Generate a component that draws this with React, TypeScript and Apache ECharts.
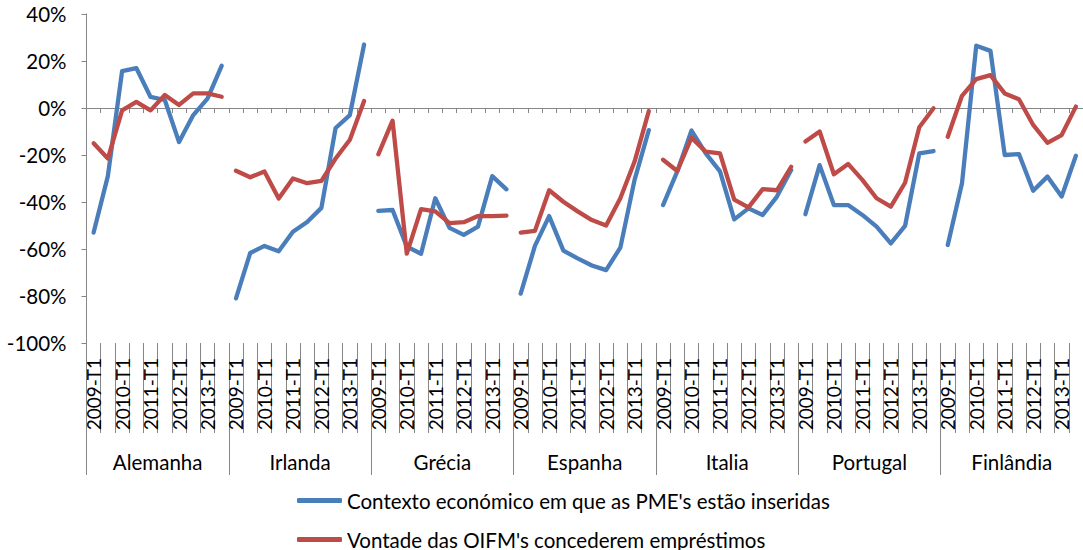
import React, { useEffect, useRef } from "react";
import * as echarts from "echarts";

const countries = ["Alemanha", "Irlanda", "Grécia", "Espanha", "Italia", "Portugal", "Finlândia"];
const periodLabels = ["2009-T1", "", "2010-T1", "", "2011-T1", "", "2012-T1", "", "2013-T1", ""];

const blueName = "Contexto económico em que as PME's estão inseridas";
const redName = "Vontade das OIFM's concederem empréstimos";

// Contexto económico (%), per country, 10 periods each
const contextoAlemanha = [-53, -29, 15.7, 17, 4.7, 3.4, -14.5, -3, 4, 18];
const contextoIrlanda = [-81, -61.7, -58.7, -61, -52.7, -48.5, -42.5, -8.5, -3, 27];
const contextoGrecia = [-43.8, -43.4, -59, -62, -38.4, -51, -54, -50.5, -29, -34.6];
const contextoEspanha = [-79, -58.7, -46, -60.7, -64, -67, -69, -59.4, -30.6, -9.4];
const contextoItalia = [-41.3, -27, -9.6, -19.3, -27, -47.4, -42.7, -45.5, -37.7, -26.4];
const contextoPortugal = [-45.2, -24.3, -41.3, -41.3, -45.5, -50.5, -57.6, -50.2, -19.3, -18.3];
const contextoFinlandia = [-58.3, -32, 26.5, 24.3, -20, -19.6, -35.2, -29.2, -37.7, -20.3];

// Vontade das OIFM (%)
const vontadeAlemanha = [-15, -21.5, -1, 2.6, -1, 5.5, 1.3, 6.2, 6.2, 4.8];
const vontadeIrlanda = [-26.7, -29.5, -27, -38.5, -30, -32, -31, -21.5, -13.5, 3];
const vontadeGrecia = [-19.7, -5.4, -62, -43, -44, -49, -48.6, -46, -46, -45.8];
const vontadeEspanha = [-53, -52.3, -35, -39.9, -44, -47.7, -50, -38.4, -22.8, -1.3];
const vontadeItalia = [-22, -26.8, -12.6, -18.6, -19.3, -39, -42.3, -34.5, -35, -25];
const vontadePortugal = [-14.3, -10, -28.2, -23.8, -30.6, -38.4, -42, -31.8, -8.2, -0.1];
const vontadeFinlandia = [-12.2, 5.2, 12.3, 14, 6.2, 3.7, -7.2, -14.8, -11.5, 0.6];

const contexto = [contextoAlemanha, contextoIrlanda, contextoGrecia, contextoEspanha, contextoItalia, contextoPortugal, contextoFinlandia];
const vontade = [vontadeAlemanha, vontadeIrlanda, vontadeGrecia, vontadeEspanha, vontadeItalia, vontadePortugal, vontadeFinlandia];

const yTicks = { min: -100, max: 40, interval: 20 };

const BLUE = "#4A7EBB";
const RED = "#BE4B48";
const AXIS = "#868686";
const FONT = "Lato";
const FS = 20.5;
const FS_PERIOD = 19;

export default function App() {
  const ref = useRef<HTMLDivElement>(null);
  useEffect(() => {
    if (!ref.current) return;
    const chart = echarts.init(ref.current, undefined, { renderer: "svg" });
    const n = countries.length * periodLabels.length;
    const cats = Array.from({ length: n }, (_, i) => String(i));

    const mk = (vals: number[], g: number) => {
      const arr: (number | null)[] = new Array(n).fill(null);
      vals.forEach((v, k) => (arr[g * periodLabels.length + k] = v));
      return arr;
    };

    const series: any[] = [];
    countries.forEach((_, g) => {
      series.push({
        type: "line",
        name: blueName,
        xAxisIndex: 0,
        data: mk(contexto[g], g),
        symbol: "none",
        color: BLUE,
        lineStyle: { color: BLUE, width: 4.3, join: "round", cap: "round" },
        connectNulls: false,
      });
    });
    countries.forEach((_, g) => {
      series.push({
        type: "line",
        name: redName,
        xAxisIndex: 0,
        data: mk(vontade[g], g),
        symbol: "none",
        color: RED,
        lineStyle: { color: RED, width: 4.3, join: "round", cap: "round" },
        connectNulls: false,
      });
    });

    const legendCommon = {
      left: 297,
      padding: 0,
      itemWidth: 45,
      itemHeight: 5,
      icon: "roundRect",
      itemGap: 5,
      textStyle: { fontFamily: FONT, fontSize: FS, color: "#000", lineHeight: 20 },
    };

    chart.setOption({
      animation: false,
      textStyle: { fontFamily: FONT },
      grid: { left: 86.5, right: -2.5, top: 14, bottom: 207, containLabel: false },
      legend: [
        { ...legendCommon, data: [{ name: blueName, itemStyle: { color: BLUE } }], top: 490 },
        { ...legendCommon, data: [{ name: redName, itemStyle: { color: RED } }], top: 529 },
      ],
      xAxis: [
        {
          type: "category",
          data: cats,
          boundaryGap: true,
          position: "bottom",
          axisLine: { onZero: true, lineStyle: { color: AXIS, width: 1 } },
          axisTick: { show: true, interval: 0, length: 5, lineStyle: { color: AXIS } },
          axisLabel: { show: false },
          splitLine: { show: false },
        },
        {
          type: "category",
          data: cats,
          boundaryGap: true,
          position: "bottom",
          axisLine: { show: false, onZero: false },
          axisTick: { show: true, interval: 0, length: 90, lineStyle: { color: AXIS } },
          axisLabel: {
            show: true,
            interval: 0,
            rotate: 90,
            margin: 15,
            fontFamily: FONT,
            fontSize: FS_PERIOD,
            color: "#000",
            formatter: (_v: string, i: number) => periodLabels[i % periodLabels.length],
          },
          splitLine: { show: false },
        },
        {
          type: "category",
          data: countries,
          boundaryGap: true,
          position: "bottom",
          axisLine: { show: false, onZero: false },
          axisTick: { show: true, interval: 0, length: 132, lineStyle: { color: AXIS } },
          axisLabel: {
            show: true,
            interval: 0,
            margin: 108,
            fontFamily: FONT,
            fontSize: FS,
            color: "#000",
          },
          splitLine: { show: false },
        },
      ],
      yAxis: {
        type: "value",
        min: yTicks.min,
        max: yTicks.max,
        interval: yTicks.interval,
        axisLine: { show: true, lineStyle: { color: AXIS, width: 1 } },
        axisTick: { show: true, length: 5, lineStyle: { color: AXIS } },
        axisLabel: {
          formatter: "{value}%",
          margin: 20,
          fontFamily: FONT,
          fontSize: FS,
          color: "#000",
        },
        splitLine: { show: false },
      },
      series,
    });
    return () => chart.dispose();
  }, []);

  return (
    <div
      ref={ref}
      style={{ position: "fixed", left: 0, top: 0, width: 1083, height: 550, background: "#fff" }}
    />
  );
}
